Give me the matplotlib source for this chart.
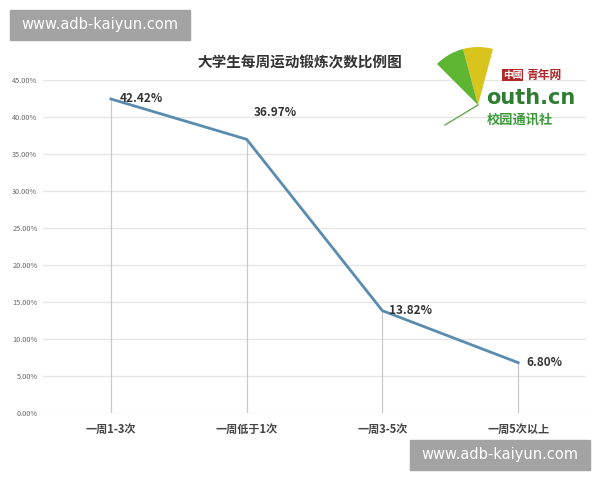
import matplotlib.pyplot as plt
from matplotlib.patches import Rectangle, Wedge
from matplotlib.lines import Line2D
from matplotlib.ticker import PercentFormatter

plt.rcParams['font.family'] = ['Noto Sans CJK SC', 'DejaVu Sans']

# dados
categorias = ["一周1-3次", "一周低于1次", "一周3-5次", "一周5次以上"]
valores = [42.42, 36.97, 13.82, 6.80]
rotulos = ["42.42%", "36.97%", "13.82%", "6.80%"]
y_ticks = [0, 5, 10, 15, 20, 25, 30, 35, 40, 45]

fig = plt.figure(figsize=(6, 4.8), dpi=100)
ax = fig.add_axes([0.0717, 0.1396, 0.905, 0.694])

x = list(range(len(categorias)))
ax.plot(x, valores, color="#5a8cb0", lw=2, zorder=3)
# linhas verticais até o zero
ax.vlines(x, 0, valores, color="#c9c9c9", lw=0.9, zorder=2)

# rótulos dos pontos (deslocamento em pixels)
offsets = [(9, 0), (7, 27), (7, 0), (8, 0)]
for xi, v, r, (dx, dy) in zip(x, valores, rotulos, offsets):
    ax.annotate(r, (xi, v), xytext=(dx * 0.72, dy * 0.72), textcoords="offset points",
                ha="left", va="center", fontsize=8.5, fontweight="bold", color="#333333")

ax.set_xlim(-0.5, 3.5)
ax.set_ylim(0, 45)
ax.set_yticks(y_ticks)
ax.yaxis.set_major_formatter(PercentFormatter(decimals=2))
ax.set_xticks(x)
ax.set_xticklabels(categorias, fontsize=8, fontweight="bold", color="#444444")
ax.tick_params(axis="y", labelsize=5.3, labelcolor="#666666", length=0, pad=4)
ax.tick_params(axis="x", length=0, pad=7)
ax.grid(axis="y", color="#e6e6e6", lw=1)
ax.set_axisbelow(True)
for s in ax.spines.values():
    s.set_visible(False)

fig.text(0.5, 1 - 62 / 480, "大学生每周运动锻炼次数比例图", ha="center", va="center",
         fontsize=10.5, fontweight="bold", color="#333333")

# logo aproximado (folha de ginkgo + textos)
cx, cy = 4.78, 4.8 - 1.05
fig.patches.append(Wedge((cx, cy), 0.58, 75, 105, transform=fig.dpi_scale_trans,
                         color="#d8c41c", ec="none"))
fig.patches.append(Wedge((cx, cy), 0.58, 105, 135, transform=fig.dpi_scale_trans,
                         color="#5db532", ec="none"))
fig.lines.append(Line2D([cx, 4.45], [cy, 4.8 - 1.25], transform=fig.dpi_scale_trans,
                        color="#6aa84f", lw=1))
fig.text(0.838, 1 - 75 / 480, "中國", fontsize=7, fontweight="bold", color="white",
         ha="left", va="center", bbox=dict(boxstyle="square,pad=0.1", fc="#b0282c", ec="none"))
fig.text(0.878, 1 - 75 / 480, "青年网", fontsize=8.5, fontweight="bold", color="#b0282c",
         ha="left", va="center")
fig.text(0.81, 1 - 98 / 480, "outh.cn", fontsize=15, fontweight="bold", color="#2e7d32",
         ha="left", va="center", family="DejaVu Sans")
fig.text(0.812, 1 - 120 / 480, "校园通讯社", fontsize=9.5, fontweight="bold", color="#3a9a3a",
         ha="left", va="center")

# marcas d'água
for (x0, y0) in [(10, 10), (410, 440)]:
    fig.patches.append(Rectangle((x0 / 600, 1 - (y0 + 30) / 480), 180 / 600, 30 / 480,
                                 transform=fig.transFigure, color="#a3a3a3", zorder=5))
    fig.text((x0 + 90) / 600, 1 - (y0 + 15) / 480, "www.adb-kaiyun.com", ha="center",
             va="center", fontsize=10.5, color="white", family="DejaVu Sans", zorder=6)

fig.savefig("out.png", dpi=100)
